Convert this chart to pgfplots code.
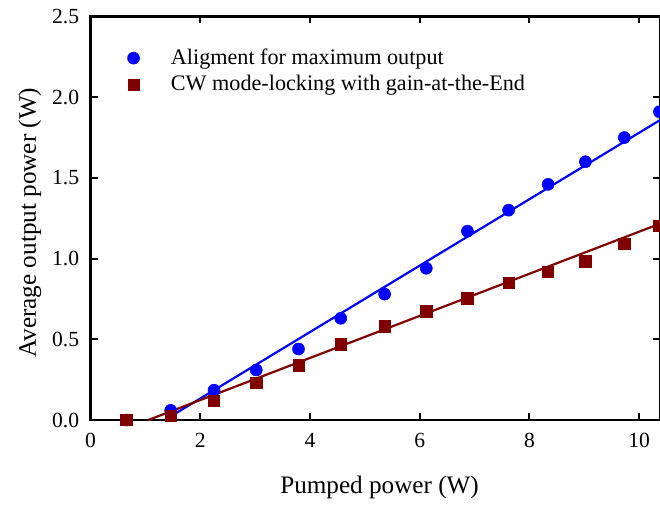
\documentclass[border=0pt]{standalone}
\usepackage{fontspec}
\setmainfont{Liberation Serif}
\usepackage{pgfplots}
\pgfplotsset{compat=1.18}
\definecolor{myblue}{RGB}{0,0,255}
\definecolor{myred}{RGB}{128,0,0}
\pgfplotsset{mymarklegend/.style={legend image code/.code={\draw[mark repeat=2,mark phase=2,##1] plot coordinates {(0pt,0pt)(8pt,0pt)(16pt,0pt)};\path (0pt,0pt) (24.5pt,0pt);}}}
\begin{document}
\begin{tikzpicture}
\begin{axis}[name=ax, scale only axis, width=285pt, height=202pt,
 xmin=0, xmax=10.38, ymin=0, ymax=2.5,
 xtick={0,2,4,6,8,10}, ytick={0,0.5,1.0,1.5,2.0,2.5},
 yticklabel style={/pgf/number format/fixed, /pgf/number format/precision=1, /pgf/number format/fixed zerofill, xshift=-2.2pt},
 xticklabel style={yshift=-3.2pt},
 /pgf/number format/assume math mode=true,
 tick align=inside, major tick length=3.5pt, tick style={line width=1pt, black},
 axis line style={line width=1.25pt},
 ticklabel style={font=\fontsize{10.8}{13}\selectfont},
 xlabel={Pumped power (W)}, ylabel={Average output power (W)},
 every axis x label/.style={at={(axis description cs:0.5075,0)}, anchor=center, yshift=-33.6pt, font=\fontsize{12.6}{15}\selectfont},
 every axis y label/.style={at={(axis description cs:-0.1065,0.489)}, anchor=center, rotate=90, font=\fontsize{12.6}{15}\selectfont},
 legend style={draw=none, fill=none, inner sep=0pt, at={(axis description cs:0,1)}, anchor=north west, xshift=13.1pt, yshift=-14pt, font=\fontsize{11.1}{13}\selectfont, row sep=0pt},
 legend cell align=left,
]
\addplot[myblue, line width=1.1pt, forget plot] coordinates {(1.35,0)(10.4,1.862)};
\addplot[myred, line width=1.1pt, forget plot] coordinates {(1.05,0)(10.4,1.219)};
\addplot[only marks, mark=*, mark size=3.0pt, myblue, mark options={line width=0.3pt, fill=myblue, draw=myblue}, mymarklegend] coordinates {
(0.65,0.0)(1.46,0.06)(2.25,0.185)(3.02,0.31)(3.79,0.44)(4.56,0.63)(5.36,0.78)(6.12,0.94)(6.87,1.17)(7.62,1.30)(8.34,1.46)(9.02,1.60)(9.73,1.75)(10.37,1.91)};
\addlegendentry{Aligment for maximum output}
\addplot[only marks, mark=square*, mark size=2.85pt, myred, mark options={line width=0.3pt, fill=myred, draw=myred}, mymarklegend] coordinates {
(0.65,0.0)(1.46,0.025)(2.25,0.12)(3.02,0.23)(3.79,0.34)(4.56,0.47)(5.36,0.58)(6.12,0.674)(6.87,0.753)(7.62,0.85)(8.34,0.92)(9.02,0.983)(9.73,1.093)(10.37,1.204)};
\addlegendentry{CW mode-locking with gain-at-the-End}
\end{axis}
\pgfresetboundingbox
\path[use as bounding box] ([xshift=-45.35pt,yshift=-42.65pt]ax.south west) rectangle ([yshift=8.25pt]ax.north east);
\end{tikzpicture}
\end{document}
